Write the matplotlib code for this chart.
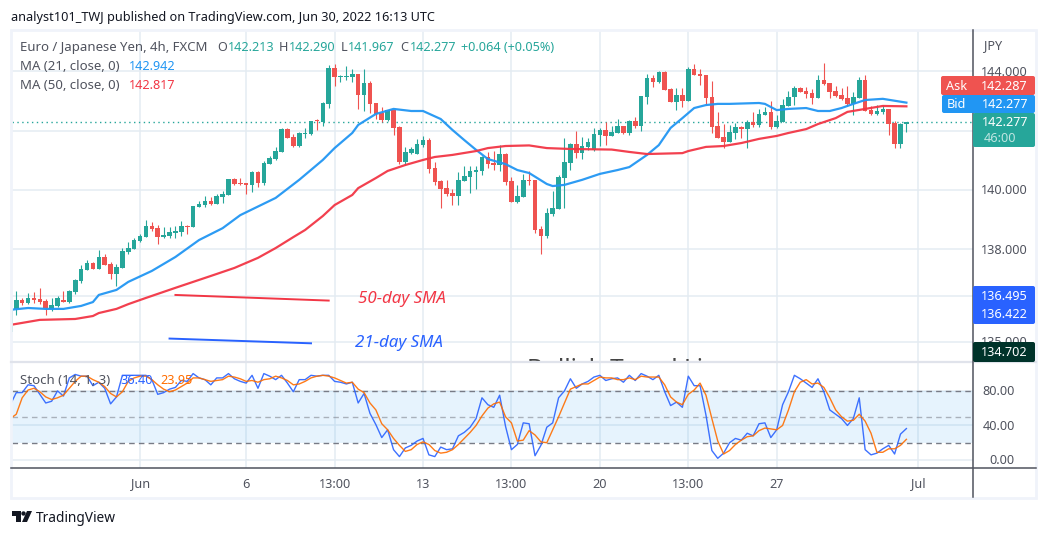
import matplotlib
matplotlib.use("Agg")
import matplotlib.pyplot as plt
from matplotlib.patches import Rectangle, Polygon, Circle, FancyBboxPatch

plt.rcParams["font.family"] = ["Noto Sans", "DejaVu Sans"]

opens = [135.21,135.99,136.29,136.19,136.36,136.32,136.26,135.99,136.09,136.29,
         136.22,136.56,136.93,137.30,137.54,137.33,137.74,137.50,137.16,137.37,
         137.91,138.01,138.28,138.41,138.78,138.71,138.41,138.45,138.55,138.58,
         138.78,138.75,139.43,139.49,139.63,139.53,139.76,139.83,140.37,140.23,
         140.23,140.17,140.60,140.23,140.87,141.04,141.28,142.05,141.78,141.48,
         141.88,141.88,142.36,142.29,142.90,144.11,143.81,143.81,143.81,143.91,
         143.20,143.61,142.93,142.59,142.36,142.70,142.12,140.94,141.24,141.21,
         141.51,141.68,140.74,140.30,140.06,139.89,139.80,140.30,140.44,140.60,
         140.64,141.11,140.91,140.84,141.21,140.30,139.59,139.76,140.34,140.34,
         138.68,138.45,139.19,139.36,140.40,140.91,141.55,141.24,141.45,141.35,
         141.85,142.02,141.82,141.92,142.15,141.92,142.32,142.15,143.13,143.77,
         143.64,143.97,143.40,142.96,143.20,143.00,144.07,143.91,143.87,143.13,
         142.15,141.78,141.61,141.92,142.12,142.05,142.29,142.19,142.52,142.63,
         142.12,142.29,142.83,143.13,143.43,143.33,143.27,143.10,143.71,143.60,
         143.33,143.20,143.10,142.90,143.10,143.71,142.70,142.56,142.63,142.73,
         142.26,141.55,142.213]
highs = [135.96,136.59,136.36,136.53,136.56,136.70,136.32,136.36,136.43,136.59,
         136.63,137.00,137.47,137.64,137.57,137.98,137.84,137.57,137.50,138.04,
         138.24,138.38,138.51,138.99,138.92,138.82,138.75,138.75,138.78,138.95,
         138.82,139.46,139.63,139.80,139.76,139.86,139.96,140.37,140.40,140.40,
         140.23,140.64,140.64,140.97,141.14,141.45,142.09,142.09,141.88,141.95,
         142.09,142.32,142.39,142.96,144.21,144.24,143.87,144.18,144.07,143.91,
         144.07,143.67,142.93,142.80,142.70,142.70,142.15,141.45,141.45,141.72,
         141.82,141.75,140.94,140.34,140.34,140.03,140.60,140.81,140.81,140.81,
         141.14,141.28,141.31,141.51,141.24,140.44,140.17,140.54,140.64,140.34,
         138.78,139.39,139.96,140.50,141.75,141.58,141.99,141.78,141.75,142.09,
         142.09,142.29,142.15,142.39,142.15,142.36,142.46,143.16,143.91,143.87,
         144.01,144.01,143.43,143.43,143.43,144.14,144.24,144.07,143.87,143.67,
         142.63,142.22,142.19,142.26,142.15,142.36,142.63,142.73,142.80,143.00,
         142.52,143.06,143.33,143.50,143.47,143.47,143.40,143.87,144.28,143.60,
         143.50,143.43,143.50,143.30,143.81,143.87,142.83,142.86,142.86,142.73,
         142.32,142.26,142.290]
lows = [135.21,135.79,136.12,136.15,136.19,136.17,135.79,135.92,136.05,136.22,
        136.19,136.49,136.86,137.30,137.33,137.33,137.47,136.99,136.76,137.37,
        137.84,138.01,138.24,138.41,138.61,138.18,138.38,138.38,138.38,138.45,
        138.51,138.75,139.43,139.43,139.49,139.53,139.56,139.83,140.17,140.17,
        139.86,139.93,140.10,140.17,140.87,141.01,141.28,141.75,141.45,141.45,
        141.75,141.85,142.02,142.15,142.76,143.50,143.64,143.71,143.64,142.73,
        142.66,142.59,142.39,142.29,142.32,141.85,140.87,140.84,141.21,141.21,
        141.45,140.57,140.17,139.39,139.80,139.49,139.49,140.30,139.89,140.03,
        140.50,140.74,140.67,140.64,140.17,139.59,139.56,139.76,140.17,138.55,
        137.84,138.38,139.12,139.36,139.39,140.67,141.07,141.04,141.35,141.31,
        141.48,141.51,141.82,141.92,141.88,141.85,142.09,141.99,142.90,143.47,
        143.61,143.37,142.96,142.70,142.80,143.00,143.87,143.54,142.86,141.92,
        141.75,141.41,141.61,141.72,141.75,141.41,142.12,142.12,142.52,142.05,
        142.09,142.29,142.83,142.86,143.30,143.10,142.90,143.10,143.54,143.10,
        143.13,143.03,142.83,142.52,143.10,142.66,142.52,142.52,142.56,141.85,
        141.41,141.41,141.967]
closes = [135.96,136.29,136.19,136.36,136.29,136.22,136.02,136.12,136.36,136.22,
          136.59,136.97,137.33,137.54,137.33,137.74,137.47,137.16,137.40,137.94,
          138.04,138.31,138.45,138.78,138.68,138.41,138.48,138.58,138.61,138.78,
          138.75,139.46,139.53,139.63,139.53,139.80,139.86,140.37,140.20,140.20,
          140.17,140.60,140.23,140.91,141.08,141.31,142.05,141.75,141.48,141.92,
          141.92,142.32,142.32,142.93,144.11,143.81,143.84,143.84,143.91,143.20,
          143.61,142.90,142.56,142.36,142.70,142.09,140.94,141.28,141.38,141.55,
          141.68,140.70,140.27,140.03,139.86,139.80,140.34,140.47,140.64,140.67,
          141.11,140.87,140.84,141.21,140.27,139.59,139.80,140.34,140.30,138.65,
          138.45,139.22,139.39,140.44,140.94,141.55,141.24,141.48,141.62,141.89,
          142.02,141.82,141.95,142.15,141.92,142.32,142.15,143.16,143.77,143.64,
          143.97,143.37,142.96,143.20,143.00,144.07,143.87,143.84,143.10,142.12,
          141.75,141.61,141.95,142.12,142.05,142.29,142.19,142.56,142.63,142.12,
          142.32,142.86,143.13,143.43,143.30,143.23,143.10,143.71,143.57,143.30,
          143.16,143.06,142.90,143.13,143.71,142.66,142.56,142.66,142.73,142.22,
          141.55,142.22,142.277]

ma21_idx = [0,3,6,9,12,14,15,18,20,24,28,32,36,39,45,49,53,55,58,59,62,65,68,70,73,
            75,77,79,81,84,86,88,91,92,94,97,100,103,105,108,110,112,114,116,118,
            120,122,127,128,130,132,135,137,139,141,143,145,148,152]
ma21_val = [135.96,136.02,135.99,135.99,136.09,136.22,136.46,136.63,136.90,137.27,
            137.74,138.31,138.71,139.15,139.73,140.34,141.01,141.41,141.92,142.19,
            142.56,142.73,142.66,142.66,142.39,142.02,141.68,141.35,141.04,140.87,
            140.67,140.57,140.20,140.13,140.17,140.34,140.54,140.67,140.77,141.18,
            141.51,142.09,142.42,142.76,142.86,142.90,142.90,142.93,142.90,142.69,
            142.73,142.76,142.66,142.66,142.76,142.90,143.03,143.07,142.942]
ma50_idx = [0,5,7,11,14,15,18,20,23,28,31,34,38,42,45,48,50,53,55,58,59,62,64,67,70,
            72,75,79,81,84,88,91,95,102,105,108,114,115,118,121,124,127,130,132,
            135,137,140,142,145,148,152]
ma50_val = [135.45,135.62,135.63,135.65,135.75,135.85,135.99,136.15,136.36,136.70,
            136.90,137.10,137.37,137.71,138.04,138.41,138.65,139.12,139.49,139.83,
            140.06,140.40,140.64,140.84,141.01,141.11,141.18,141.31,141.41,141.48,
            141.50,141.41,141.38,141.36,141.28,141.21,141.24,141.31,141.45,141.48,
            141.58,141.72,141.82,141.92,142.05,142.22,142.42,142.63,142.73,142.83,
            142.817]

stoch_k = [64,78,78,87,86,76,66,68,80,74,95,99,97,97,86,90,83,65,73,98,
           98,98,98,98,93,76,78,82,84,92,91,100,95,93,87,95,95,100,94,91,
           89,98,83,100,97,93,98,89,79,93,93,98,97,98,98,91,90,88,90,66,
           77,54,41,26,35,12,4,14,17,22,25,6,4,15,12,13,28,32,38,48,
           72,64,61,75,39,12,18,43,42,5,17,38,43,72,80,94,83,88,91,96,
           98,92,94,95,90,98,92,100,97,93,98,79,63,67,61,97,86,86,52,11,
           2,8,20,25,23,31,28,42,43,26,35,64,79,98,94,89,84,94,79,58,
           53,48,40,48,72,12,6,8,13,17,7,30,36.4]
stoch_d = [48,53,72,81,83,79,73,70,72,75,83,91,97,97,93,90,85,77,73,79,
           91,95,97,97,93,87,82,79,81,85,89,95,95,93,91,92,93,97,96,94,
           91,92,90,93,94,97,95,92,87,88,91,95,97,98,97,95,92,89,90,82,
           78,66,58,42,35,25,17,10,12,18,21,18,11,8,9,12,18,25,32,40,
           51,60,65,67,50,43,22,23,34,29,21,20,35,50,66,82,85,88,88,92,
           96,95,95,93,93,95,93,97,96,96,96,87,73,67,64,76,81,89,75,48,
           22,7,11,18,23,27,28,34,37,36,35,40,58,79,90,93,88,89,84,72,
           58,50,45,46,53,45,31,9,9,13,13,17,23.95]

date_idx = [22,40,55,70,85,100,115,130,154]
date_labels = ["Jun","6","13:00","13","13:00","20","13:00","27","Jul"]
price_ticks = [144,142,140,138,136.43,134.87]
price_labels = [(144,"144.000"),(140,"140.000"),(138,"138.000"),(134.87,"135.000")]
stoch_ticks = [80,40,0]
stoch_labels = ["80.00","40.00","0.00"]
last_close = 142.277

# annotations somebody drew on the snapshot
sma50_line_idx = [28,54]
sma50_line_val = [136.46,136.27]
sma21_line_idx = [27,51]
sma21_line_val = [134.99,134.83]

W, H = 1049, 536
UP = "#26a69a"
DOWN = "#ef5350"
GRID = "#e4ecf2"
TXT = "#50535e"

fig = plt.figure(figsize=(W/100, H/100), dpi=100)


def px_axes(x0, y0, x1, y1):
    return fig.add_axes([x0/W, 1-y1/H, (x1-x0)/W, (y1-y0)/H])


ax = px_axes(11.5, 30, 973, 362)
ax2 = px_axes(11.5, 362, 973, 468)
over = fig.add_axes([0, 0, 1, 1], zorder=10)
over.set_xlim(0, W)
over.set_ylim(H, 0)
over.axis("off")
over.patch.set_alpha(0)

xlim = (0.19, 163.3)
ax.set_xlim(xlim)
ax.set_ylim(134.20, 145.39)
ax2.set_xlim(xlim)
ax2.set_ylim(-9.2, 113.4)

for a in (ax, ax2):
    for s in a.spines.values():
        s.set_visible(False)
    a.set_xticks(date_idx)
    a.set_xticklabels([])
    a.tick_params(length=0)
    a.set_yticklabels([])
    a.grid(True, color=GRID, lw=1.1)
    a.set_axisbelow(True)
ax.set_yticks(price_ticks)
ax2.set_yticks(stoch_ticks)

for i in range(len(opens)):
    c = UP if closes[i] >= opens[i] else DOWN
    ax.plot([i, i], [lows[i], highs[i]], color=c, lw=0.8, solid_capstyle="butt", zorder=3)
    lo = min(opens[i], closes[i])
    hi = max(opens[i], closes[i])
    ax.add_patch(Rectangle((i-0.39, lo), 0.78, max(hi-lo, 0.03), color=c, lw=0, zorder=3))

ax.axhline(last_close, color=UP, lw=1, ls=(0, (1, 2.5)), zorder=2)
ax.plot(ma21_idx, ma21_val, color="#2196f3", lw=1.6, alpha=0.95, zorder=4)
ax.plot(ma50_idx, ma50_val, color="#f23645", lw=1.6, alpha=0.95, zorder=4)
ax.plot(sma50_line_idx, sma50_line_val, color="#f23645", lw=1.4, zorder=4)
ax.plot(sma21_line_idx, sma21_line_val, color="#2962ff", lw=1.4, zorder=4)
ax.text(59.0, 136.31, "50-day SMA", color="#f23645", style="italic", fontsize=12.2, va="center", ha="left")
ax.text(58.4, 134.83, "21-day SMA", color="#2962ff", style="italic", fontsize=12.2, va="center", ha="left")
ax.text(87.6, 134.32, "Bullish Trend Line", color="#444444", fontsize=17.5, va="top", ha="left", clip_on=True)

ax2.axhspan(20, 80, color="#2196f3", alpha=0.11, lw=0, zorder=1)
ax2.axhline(80, color="#787b86", lw=1, ls=(0, (4, 3)), zorder=2)
ax2.axhline(50, color="#787b86", lw=1, ls=(0, (4, 3)), alpha=0.55, zorder=2)
ax2.axhline(20, color="#787b86", lw=1, ls=(0, (4, 3)), zorder=2)
ax2.plot(range(len(stoch_k)), stoch_k, color="#2962ff", lw=1, alpha=0.9, zorder=3)
ax2.plot(range(len(stoch_d)), stoch_d, color="#ff6d00", lw=1, alpha=0.9, zorder=4)

# frame and pane lines
over.add_patch(Rectangle((10.5, 29.5), 1025.5, 468.5, fill=False, ec="#f0f3fa", lw=2))
over.plot([11, 1036], [362, 362], color="#e0e3eb", lw=1.6)
over.plot([11, 1036], [468, 468], color=TXT, lw=1.1)
over.plot([973, 973], [30, 497], color=TXT, lw=1.1)

# header and legend text
over.text(11, 17, "analyst101_TWJ published on TradingView.com, Jun 30, 2022 16:13 UTC",
          fontsize=9.15, color="#131722", va="center")
over.text(20, 47.5, "Euro / Japanese Yen, 4h, FXCM", fontsize=9.5, color=TXT, va="center")
for x, s, c in [(217, "O", TXT), (228, "142.213", UP), (279, "H", TXT), (289, "142.290", UP),
                (341, "L", TXT), (348, "141.967", UP), (400, "C", TXT), (410, "142.277", UP),
                (461, "+0.064 (+0.05%)", UP)]:
    over.text(x, 47.5, s, fontsize=9.1, color=c, va="center")
over.text(20, 66.5, "MA (21, close, 0)", fontsize=9.5, color=TXT, va="center")
over.text(129, 66.5, "142.942", fontsize=9.1, color="#2196f3", va="center")
over.text(20, 85.5, "MA (50, close, 0)", fontsize=9.5, color=TXT, va="center")
over.text(129, 85.5, "142.817", fontsize=9.1, color="#f23645", va="center")
over.text(20, 380.5, "Stoch (14, 1, 3)", fontsize=9.5, color=TXT, va="center")
over.text(120, 380.5, "36.40", fontsize=9.1, color="#2962ff", va="center")
over.text(160, 380.5, "23.95", fontsize=9.1, color="#ff6d00", va="center")

# time axis labels
for i, s in zip(date_idx, date_labels):
    x = 10.4 + 5.894*i
    over.text(x, 484, s, fontsize=9.1, color=TXT, ha="center", va="center")

# right axis labels
over.text(984, 45.5, "JPY", fontsize=9.1, color=TXT, va="center")
for p, s in price_labels:
    over.text(1028, 72 + (144-p)*29.67, s, fontsize=9.1, color=TXT, ha="right", va="center")
for v, s in zip(stoch_ticks, stoch_labels):
    over.text(1015, 461 - v*0.8667, s, fontsize=9.1, color=TXT, ha="right", va="center")


def tag(x0, y0, x1, y1, color):
    over.add_patch(FancyBboxPatch((x0+1, y0+1), x1-x0-2, y1-y0-2, boxstyle="round,pad=1,rounding_size=2",
                                  fc=color, ec="none", zorder=5))


tag(941, 76, 1035, 95, DOWN)
over.text(946, 86, "Ask", color="white", fontsize=9.1, va="center", zorder=6)
over.text(1028, 86, "142.287", color="white", fontsize=9.1, ha="right", va="center", zorder=6)
tag(942, 95, 1035, 113, "#2196f3")
over.text(947, 104, "Bid", color="white", fontsize=9.1, va="center", zorder=6)
over.text(1028, 104, "142.277", color="white", fontsize=9.1, ha="right", va="center", zorder=6)
tag(973, 113, 1035, 147, UP)
over.text(1028, 123, "142.277", color="white", fontsize=9.1, ha="right", va="center", zorder=6)
over.text(984, 138, "46:00", color="#bfe5e1", fontsize=9.1, va="center", zorder=6)
tag(973, 286, 1035, 324, "#2962ff")
over.text(1028, 296, "136.495", color="white", fontsize=9.1, ha="right", va="center", zorder=6)
over.text(1028, 315, "136.422", color="white", fontsize=9.1, ha="right", va="center", zorder=6)
tag(973, 342, 1035, 362, "#00332a")
over.text(1028, 352.5, "134.702", color="white", fontsize=9.1, ha="right", va="center", zorder=6)

# logo
over.add_patch(Polygon([(12, 511), (21, 511), (21, 522), (16, 522), (16, 516), (12, 516)], fc="#131722", ec="none"))
over.add_patch(Circle((23.5, 513.5), 2.2, fc="#131722", ec="none"))
over.add_patch(Polygon([(27, 511), (32, 511), (27, 522), (22, 522)], fc="#131722", ec="none"))
over.text(36, 518, "TradingView", fontsize=9.9, color="#131722", va="center")

fig.savefig("out.png", dpi=100)
